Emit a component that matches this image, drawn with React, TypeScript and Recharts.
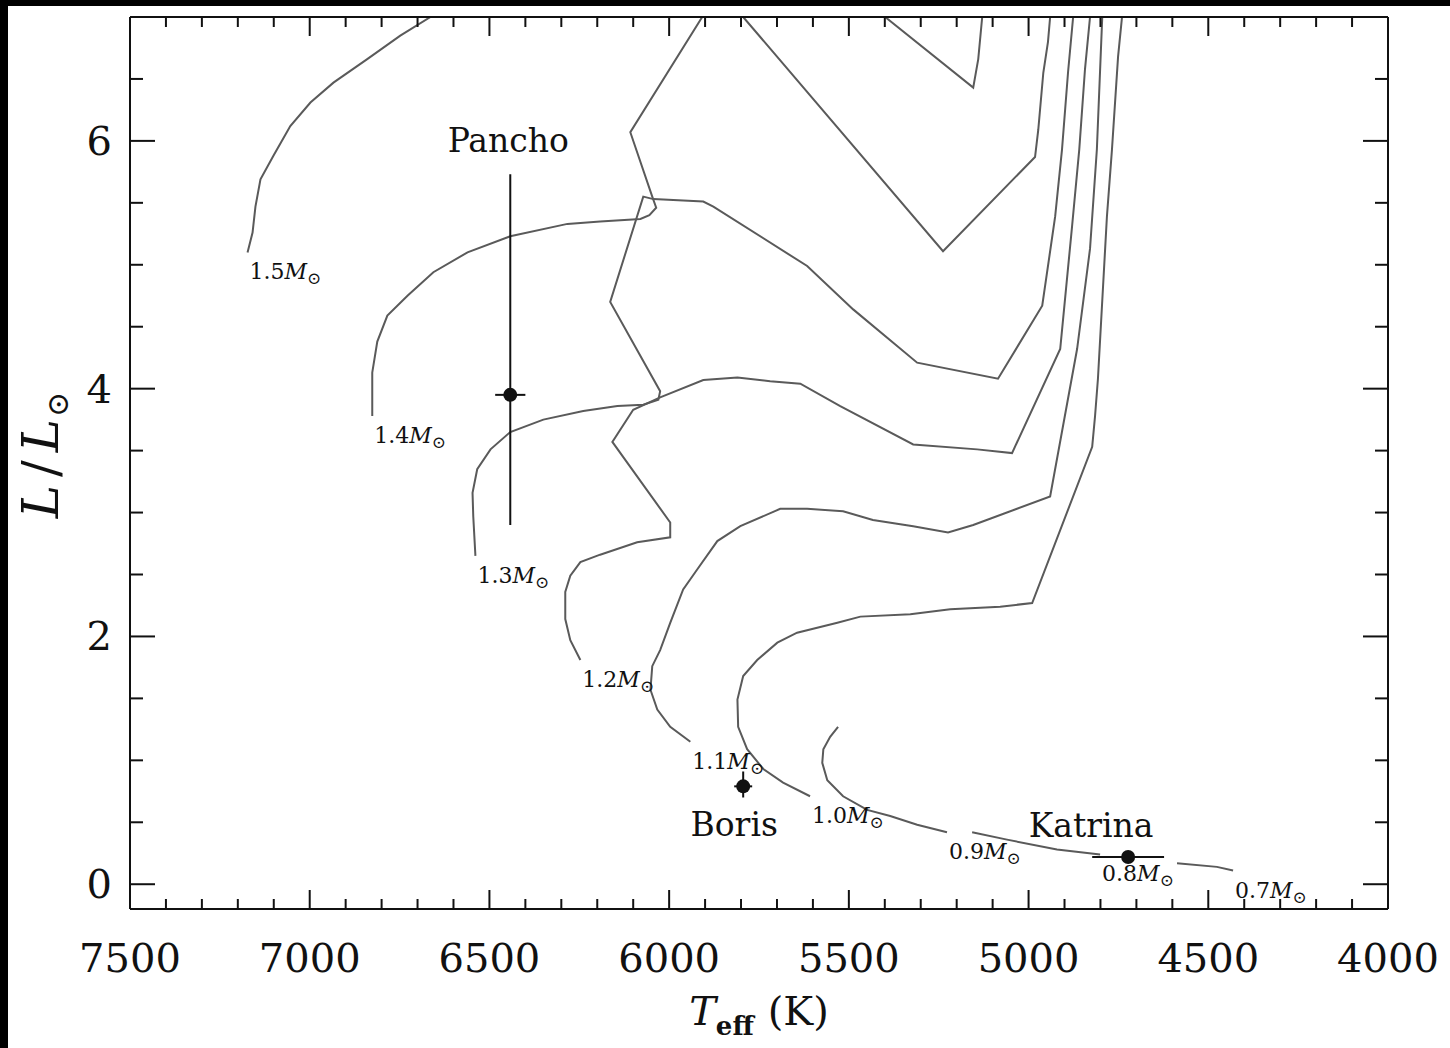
import React from 'react';
import { ComposedChart, Line, Scatter, ErrorBar, XAxis, YAxis } from 'recharts';

// HR diagram: evolutionary tracks (0.7 - 1.5 Msun) with three stars

const FONT = '"DejaVu Serif", serif';
const TRACK = '#5a5a5a';
const INK = '#111';

// axis ticks
const tempMajor = [4000, 4500, 5000, 5500, 6000, 6500, 7000, 7500];
const tempTicks = Array.from({ length: 36 }, (_, i) => 4000 + i * 100);
const lumMajor = [0, 2, 4, 6];
const lumTicks = Array.from({ length: 14 }, (_, i) => i * 0.5);

// tracks, starting at the ZAMS end; null = track leaves the plot at the top
const track15 = [
  { T: 7173, L: 5.1 }, { T: 7159, L: 5.26 }, { T: 7151, L: 5.47 }, { T: 7137, L: 5.69 },
  { T: 7101, L: 5.88 }, { T: 7054, L: 6.12 }, { T: 6998, L: 6.31 }, { T: 6934, L: 6.47 },
  { T: 6840, L: 6.66 }, { T: 6748, L: 6.85 }, { T: 6664, L: 7.0 },
  { T: 6000, L: null },
  { T: 5399, L: 7.0 }, { T: 5154, L: 6.43 }, { T: 5140, L: 6.66 }, { T: 5129, L: 7.0 },
];
const track14 = [
  { T: 6826, L: 3.78 }, { T: 6826, L: 4.13 }, { T: 6812, L: 4.38 }, { T: 6784, L: 4.59 },
  { T: 6728, L: 4.75 }, { T: 6656, L: 4.94 }, { T: 6561, L: 5.1 }, { T: 6442, L: 5.23 },
  { T: 6283, L: 5.33 }, { T: 6192, L: 5.35 }, { T: 6080, L: 5.37 }, { T: 6055, L: 5.4 },
  { T: 6036, L: 5.46 }, { T: 6047, L: 5.55 }, { T: 6108, L: 6.07 }, { T: 5908, L: 7.0 },
  { T: 5850, L: null },
  { T: 5794, L: 7.0 }, { T: 5238, L: 5.11 }, { T: 4982, L: 5.87 }, { T: 4973, L: 6.09 },
  { T: 4959, L: 6.55 }, { T: 4946, L: 6.8 }, { T: 4940, L: 7.0 },
];
const track13 = [
  { T: 6539, L: 2.65 }, { T: 6545, L: 2.97 }, { T: 6547, L: 3.16 }, { T: 6534, L: 3.35 },
  { T: 6497, L: 3.51 }, { T: 6442, L: 3.65 }, { T: 6350, L: 3.75 }, { T: 6239, L: 3.82 },
  { T: 6144, L: 3.86 }, { T: 6072, L: 3.87 }, { T: 6030, L: 3.91 }, { T: 6025, L: 3.98 },
  { T: 6164, L: 4.7 }, { T: 6072, L: 5.55 }, { T: 6044, L: 5.53 }, { T: 5905, L: 5.51 },
  { T: 5877, L: 5.47 }, { T: 5616, L: 4.99 }, { T: 5488, L: 4.64 }, { T: 5310, L: 4.21 },
  { T: 5085, L: 4.08 }, { T: 4962, L: 4.67 }, { T: 4926, L: 5.39 }, { T: 4907, L: 5.93 },
  { T: 4890, L: 6.56 }, { T: 4876, L: 7.0 },
];
const track12 = [
  { T: 6247, L: 1.81 }, { T: 6275, L: 1.97 }, { T: 6289, L: 2.14 }, { T: 6289, L: 2.36 },
  { T: 6275, L: 2.49 }, { T: 6247, L: 2.6 }, { T: 6192, L: 2.66 }, { T: 6089, L: 2.76 },
  { T: 5997, L: 2.8 }, { T: 5997, L: 2.92 }, { T: 6158, L: 3.57 }, { T: 6100, L: 3.83 },
  { T: 6025, L: 3.93 }, { T: 5905, L: 4.07 }, { T: 5810, L: 4.09 }, { T: 5719, L: 4.06 },
  { T: 5635, L: 4.04 }, { T: 5524, L: 3.86 }, { T: 5321, L: 3.55 }, { T: 5143, L: 3.51 },
  { T: 5046, L: 3.48 }, { T: 4912, L: 4.32 }, { T: 4879, L: 5.31 }, { T: 4859, L: 5.93 },
  { T: 4843, L: 6.58 }, { T: 4829, L: 7.0 },
];
const track11 = [
  { T: 5941, L: 1.15 }, { T: 5997, L: 1.27 }, { T: 6033, L: 1.41 }, { T: 6052, L: 1.57 },
  { T: 6047, L: 1.76 }, { T: 6025, L: 1.89 }, { T: 5997, L: 2.11 }, { T: 5961, L: 2.38 },
  { T: 5922, L: 2.54 }, { T: 5866, L: 2.77 }, { T: 5802, L: 2.89 }, { T: 5691, L: 3.03 },
  { T: 5616, L: 3.03 }, { T: 5516, L: 3.01 }, { T: 5433, L: 2.94 }, { T: 5321, L: 2.89 },
  { T: 5224, L: 2.84 }, { T: 5154, L: 2.9 }, { T: 4940, L: 3.13 }, { T: 4865, L: 4.32 },
  { T: 4829, L: 5.13 }, { T: 4810, L: 5.93 }, { T: 4795, L: 7.0 },
];
const track10 = [
  { T: 5608, L: 0.71 }, { T: 5683, L: 0.82 }, { T: 5738, L: 0.93 }, { T: 5783, L: 1.09 },
  { T: 5808, L: 1.27 }, { T: 5810, L: 1.49 }, { T: 5794, L: 1.68 }, { T: 5755, L: 1.81 },
  { T: 5699, L: 1.95 }, { T: 5644, L: 2.03 }, { T: 5532, L: 2.11 }, { T: 5468, L: 2.16 },
  { T: 5329, L: 2.18 }, { T: 5218, L: 2.22 }, { T: 5079, L: 2.24 }, { T: 4990, L: 2.27 },
  { T: 4823, L: 3.53 }, { T: 4815, L: 3.78 }, { T: 4807, L: 4.08 }, { T: 4782, L: 5.39 },
  { T: 4768, L: 5.93 }, { T: 4751, L: 6.68 }, { T: 4740, L: 7.0 },
];
const track09 = [
  { T: 5227, L: 0.42 }, { T: 5310, L: 0.48 }, { T: 5385, L: 0.55 }, { T: 5449, L: 0.6 },
  { T: 5516, L: 0.71 }, { T: 5560, L: 0.84 }, { T: 5574, L: 0.98 }, { T: 5571, L: 1.09 },
  { T: 5552, L: 1.19 }, { T: 5530, L: 1.27 },
];
const track08 = [
  { T: 4801, L: 0.24 }, { T: 4921, L: 0.28 }, { T: 5060, L: 0.36 }, { T: 5157, L: 0.42 },
];
const track07 = [
  { T: 4431, L: 0.11 }, { T: 4476, L: 0.14 }, { T: 4587, L: 0.17 },
];

const tracks = [
  { mass: '1.5', data: track15 },
  { mass: '1.4', data: track14 },
  { mass: '1.3', data: track13 },
  { mass: '1.2', data: track12 },
  { mass: '1.1', data: track11 },
  { mass: '1.0', data: track10 },
  { mass: '0.9', data: track09 },
  { mass: '0.8', data: track08 },
  { mass: '0.7', data: track07 },
];

// stars: errL = [minus, plus]
const stars = [
  { name: 'Pancho', T: 6442, L: 3.95, errT: 42, errL: [1.05, 1.78] },
  { name: 'Boris', T: 5794, L: 0.79, errT: 25, errL: [0.09, 0.12] },
  { name: 'Katrina', T: 4723, L: 0.22, errT: 100, errL: [0, 0] },
];

// label placement relative to the star dot (px)
const nameOffsets: Record<string, { dx: number; dy: number }> = {
  Pancho: { dx: -2, dy: -243 },
  Boris: { dx: -9, dy: 50 },
  Katrina: { dx: -37, dy: -20 },
};

const massLabels = tracks.map((t) => ({ T: t.data[0].T, L: t.data[0].L, mass: t.mass }));

function TempTick({ x, y, payload, side }: any) {
  const v = payload.value;
  const major = tempMajor.includes(v);
  const len = major ? 19 : 10;
  const dir = side === 'top' ? 1 : -1;
  return (
    <g>
      <line x1={x} x2={x} y1={y} y2={y + dir * len} stroke={INK} strokeWidth={2} />
      {side === 'bottom' && major && (
        <text x={x} y={y + 63} textAnchor="middle" fontFamily={FONT} fontSize={40} fill={INK}>
          {v}
        </text>
      )}
    </g>
  );
}

function LumTick({ x, y, payload, side }: any) {
  const v = payload.value;
  const major = lumMajor.includes(v);
  const len = major ? 25 : 13;
  const dir = side === 'left' ? 1 : -1;
  return (
    <g>
      <line x1={x} x2={x + dir * len} y1={y} y2={y} stroke={INK} strokeWidth={2} />
      {side === 'left' && major && (
        <text x={x - 18} y={y + 14} textAnchor="end" fontFamily={FONT} fontSize={40} fill={INK}>
          {v}
        </text>
      )}
    </g>
  );
}

function MassLabel({ cx, cy, payload }: any) {
  return (
    <text x={cx + 2} y={cy + 27} fontFamily={FONT} fontSize={22} fill={INK}>
      {payload.mass}
      <tspan fontStyle="italic">M</tspan>
      <tspan fontSize={17} dy={5}>⊙</tspan>
    </text>
  );
}

function StarShape({ cx, cy, payload }: any) {
  const off = nameOffsets[payload.name];
  return (
    <g>
      <circle cx={cx} cy={cy} r={7} fill={INK} />
      <text x={cx + off.dx} y={cy + off.dy} textAnchor="middle" fontFamily={FONT} fontSize={33} fill={INK}>
        {payload.name}
      </text>
    </g>
  );
}

function XTitle({ viewBox }: any) {
  const cx = viewBox.x + viewBox.width / 2;
  return (
    <text x={cx} y={viewBox.y + 116} textAnchor="middle" fontFamily={FONT} fontSize={40} fill={INK}>
      <tspan fontStyle="italic">T</tspan>
      <tspan fontSize={26} fontWeight="bold" dy={10}>eff</tspan>
      <tspan dy={-10} dx={14}>(K)</tspan>
    </text>
  );
}

function YTitle() {
  return (
    <text transform="translate(58,455) rotate(-90)" textAnchor="middle" fontFamily={FONT} fontSize={50} fill={INK}>
      <tspan fontStyle="italic">L</tspan>
      <tspan dx={8}>/</tspan>
      <tspan dx={8} fontStyle="italic">L</tspan>
      <tspan fontSize={30} dy={10} dx={2}>⊙</tspan>
    </text>
  );
}

export default function App() {
  return (
    <div style={{ position: 'absolute', left: 0, top: 0, width: 1450, height: 1048, background: '#fff' }}>
      <ComposedChart width={1450} height={1048} margin={{ top: 16, right: 61, bottom: 39, left: 0 }}>
        <XAxis
          dataKey="T"
          type="number"
          domain={[4000, 7500]}
          reversed
          allowDataOverflow
          ticks={tempTicks}
          interval={0}
          height={100}
          tickSize={0}
          tickMargin={0}
          axisLine={{ stroke: INK, strokeWidth: 2 }}
          tickLine={false}
          tick={(p: any) => <TempTick {...p} side="bottom" />}
          label={<XTitle />}
        />
        <XAxis
          xAxisId="top"
          dataKey="T"
          orientation="top"
          type="number"
          domain={[4000, 7500]}
          reversed
          allowDataOverflow
          ticks={tempTicks}
          interval={0}
          height={1}
          tickSize={0}
          tickMargin={0}
          axisLine={{ stroke: INK, strokeWidth: 2 }}
          tickLine={false}
          tick={(p: any) => <TempTick {...p} side="top" />}
        />
        <YAxis
          type="number"
          domain={[-0.2, 7]}
          allowDataOverflow
          ticks={lumTicks}
          interval={0}
          width={130}
          tickSize={0}
          tickMargin={0}
          axisLine={{ stroke: INK, strokeWidth: 2 }}
          tickLine={false}
          tick={(p: any) => <LumTick {...p} side="left" />}
          label={<YTitle />}
        />
        <YAxis
          yAxisId="right"
          orientation="right"
          type="number"
          domain={[-0.2, 7]}
          allowDataOverflow
          ticks={lumTicks}
          interval={0}
          width={1}
          tickSize={0}
          tickMargin={0}
          axisLine={{ stroke: INK, strokeWidth: 2 }}
          tickLine={false}
          tick={(p: any) => <LumTick {...p} side="right" />}
        />
        {tracks.map((t) => (
          <Line
            key={t.mass}
            data={t.data}
            dataKey="L"
            type="linear"
            stroke={TRACK}
            strokeWidth={2}
            dot={false}
            activeDot={false}
            connectNulls={false}
            isAnimationActive={false}
          />
        ))}
        <Scatter
          data={massLabels}
          dataKey="L"
          xAxisId="top"
          yAxisId="right"
          shape={<MassLabel />}
          isAnimationActive={false}
        />
        <Scatter data={stars} dataKey="L" shape={<StarShape />} isAnimationActive={false}>
          <ErrorBar dataKey="errT" direction="x" width={0} stroke={INK} strokeWidth={2} />
          <ErrorBar dataKey="errL" direction="y" width={0} stroke={INK} strokeWidth={2} />
        </Scatter>
      </ComposedChart>
      <div style={{ position: 'absolute', left: 0, top: 0, width: 1450, height: 6, background: '#000' }} />
      <div style={{ position: 'absolute', left: 0, top: 0, width: 8, height: 1048, background: '#000' }} />
    </div>
  );
}
